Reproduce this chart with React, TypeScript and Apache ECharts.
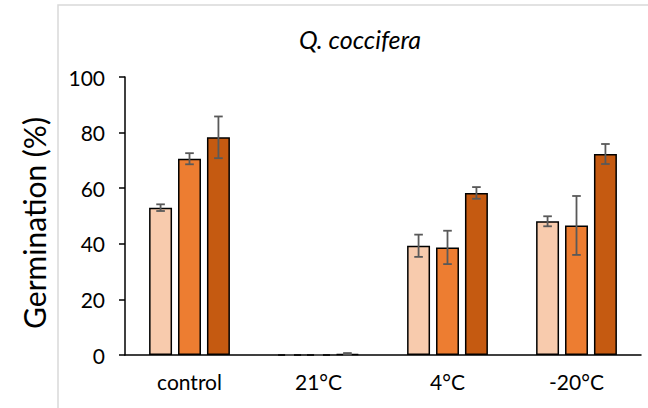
import React, { useEffect, useRef } from "react";
import * as echarts from "echarts";

const categories = ["control", "21°C", "4°C", "-20°C"];
const seriesNames = ["s1", "s2", "s3"];
const values1 = [53.0, 0, 39.3, 48.1];
const values2 = [70.6, 0, 38.7, 46.6];
const values3 = [78.3, 0.4, 58.3, 72.3];
const errors1 = [1.2, 0, 4.0, 1.8];
const errors2 = [2.0, 0, 6.0, 10.6];
const errors3 = [7.5, 0.3, 2.1, 3.6];
const colors = ["#F8CBAD", "#ED7D31", "#C55A11"];

const BAR_W = 0.178;
const BAR_GAP = 0.26;

export default function App() {
  const ref = useRef<HTMLDivElement>(null);
  useEffect(() => {
    document.body.style.margin = "0";
    const chart = echarts.init(ref.current!, null, { renderer: "svg" });
    const allVals = [values1, values2, values3];
    const allErrs = [errors1, errors2, errors3];
    const barSeries = allVals.map((vals, i) => ({
      type: "bar",
      name: seriesNames[i],
      data: vals,
      barWidth: BAR_W * 100 + "%",
      barGap: BAR_GAP * 100 + "%",
      itemStyle: { color: colors[i], borderColor: "#000", borderWidth: 1.5 },
      z: 2,
    }));
    const errSeries = allVals.map((vals, i) => ({
      type: "custom",
      name: "err" + i,
      data: vals.map((v, j) => [j, v, v - allErrs[i][j], v + allErrs[i][j]]),
      z: 5,
      renderItem: (params: any, api: any) => {
        const band = api.size([1, 0])[0];
        const w = band * BAR_W;
        const off = (i - 1) * (w + w * BAR_GAP);
        const c = api.coord([api.value(0), api.value(1)]);
        const lo = api.coord([api.value(0), api.value(2)]);
        const hi = api.coord([api.value(0), api.value(3)]);
        const x = c[0] + off;
        const cap = 4.3;
        const style = { stroke: "#595959", lineWidth: 1.8 };
        return {
          type: "group",
          children: [
            { type: "line", shape: { x1: x, y1: lo[1], x2: x, y2: hi[1] }, style },
            { type: "line", shape: { x1: x - cap, y1: lo[1], x2: x + cap, y2: lo[1] }, style },
            { type: "line", shape: { x1: x - cap, y1: hi[1], x2: x + cap, y2: hi[1] }, style },
          ],
        };
      },
    }));
    chart.setOption({
      animation: false,
      textStyle: { fontFamily: "Lato" },
      grid: { left: 125, top: 77, right: 7, bottom: 53 },
      graphic: [
        {
          type: "rect",
          shape: { x: 58, y: 5, width: 620, height: 430 },
          style: { fill: "none", stroke: "#d9d9d9", lineWidth: 1.5 },
          silent: true,
        },
        {
          type: "text",
          x: 360,
          y: 39,
          style: {
            text: "Q. coccifera",
            font: "italic 25px Lato",
            fill: "#000",
            align: "center",
            verticalAlign: "middle",
          },
        },
        {
          type: "text",
          x: 34,
          y: 223,
          rotation: Math.PI / 2,
          style: {
            text: "Germination (%)",
            font: "30px Lato",
            fill: "#000",
            align: "center",
            verticalAlign: "middle",
          },
        },
      ],
      xAxis: {
        type: "category",
        data: categories,
        axisLine: { lineStyle: { color: "#000", width: 1.5 } },
        axisTick: { show: false },
        axisLabel: { color: "#000", fontSize: 21, margin: 16, fontFamily: "Lato" },
      },
      yAxis: {
        type: "value",
        min: 0,
        max: 100,
        interval: 20,
        splitLine: { show: false },
        axisLine: { show: true, lineStyle: { color: "#000", width: 1.5 } },
        axisTick: { show: true, inside: false, length: 6, lineStyle: { color: "#000", width: 1.5 } },
        axisLabel: { color: "#000", fontSize: 21, margin: 20, fontFamily: "Lato" },
      },
      series: [...barSeries, ...errSeries],
    });
    return () => chart.dispose();
  }, []);
  return <div ref={ref} style={{ width: 648, height: 408 }} />;
}
